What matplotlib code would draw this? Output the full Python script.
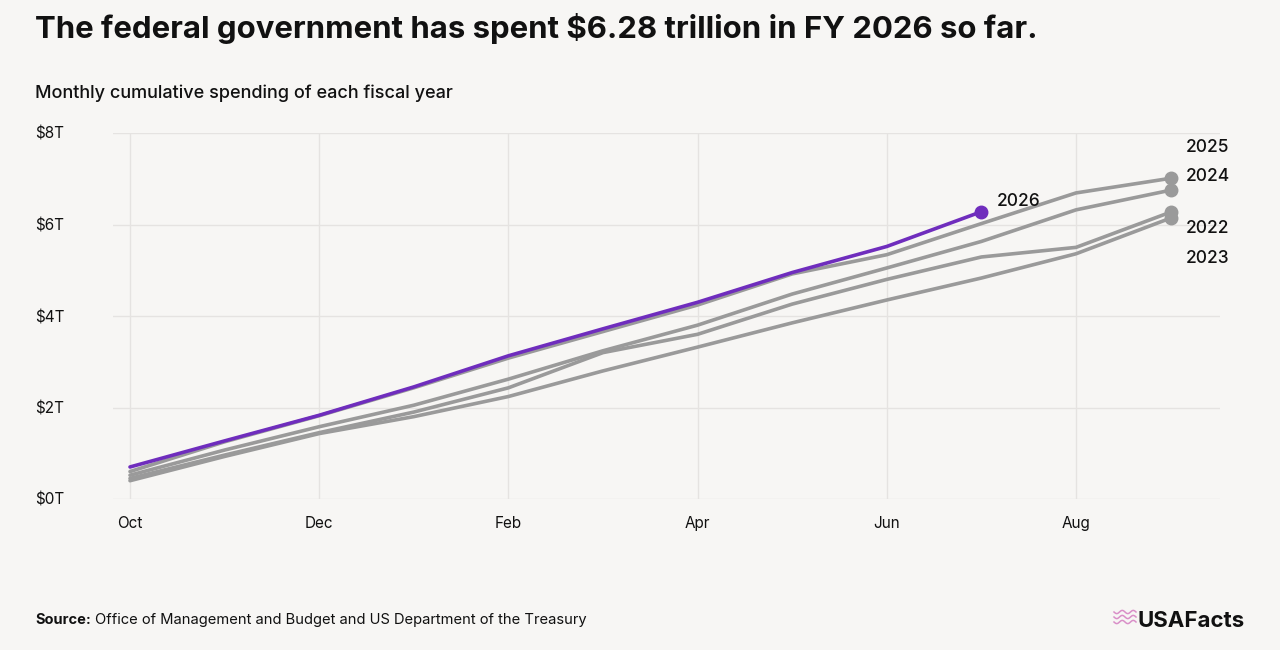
import numpy as np
import matplotlib
matplotlib.use("Agg")
import matplotlib.pyplot as plt
from matplotlib.lines import Line2D

plt.rcParams["font.family"] = ["Inter", "DejaVu Sans"]

# ---------------------------------------------------------------------------
# Data (cumulative outlays, trillions USD)
# ---------------------------------------------------------------------------
MONTHS = ["Oct", "Nov", "Dec", "Jan", "Feb", "Mar", "Apr", "May", "Jun", "Jul", "Aug", "Sep"]
TICK_MONTHS = ["Oct", "Dec", "Feb", "Apr", "Jun", "Aug"]

fy2022 = [0.45, 0.96, 1.45, 1.90, 2.43, 3.20, 3.60, 4.26, 4.80, 5.29, 5.50, 6.27]
fy2023 = [0.40, 0.93, 1.43, 1.80, 2.24, 2.80, 3.32, 3.85, 4.35, 4.83, 5.36, 6.14]
fy2024 = [0.52, 1.07, 1.58, 2.05, 2.62, 3.24, 3.80, 4.48, 5.05, 5.63, 6.32, 6.75]
fy2025 = [0.60, 1.25, 1.82, 2.43, 3.08, 3.66, 4.24, 4.92, 5.34, 6.02, 6.69, 7.01]
fy2026 = [0.70, 1.27, 1.83, 2.45, 3.13, 3.72, 4.30, 4.95, 5.52, 6.28]

Y_TICKS = [0, 2, 4, 6, 8]
Y_LABELS = ["$0T", "$2T", "$4T", "$6T", "$8T"]

BG = "#f7f6f4"
GRAY = "#9a9a9a"
PURPLE = "#6f2dbd"
GRID = "#e5e3e1"
TEXT = "#111111"

W, H = 1280, 650
fig = plt.figure(figsize=(W / 100, H / 100), dpi=100, facecolor=BG)

# axes placed in pixel terms of the reference
left, right, top, bottom = 113, 1220, 133, 499
X0, DX = 130, 94.6   # pixel of Oct and pixels per month
ax = fig.add_axes([left / W, 1 - bottom / H, (right - left) / W, (bottom - top) / H])
ax.set_facecolor(BG)

x = np.arange(len(MONTHS))
gray_series = [("2023", fy2023), ("2022", fy2022), ("2024", fy2024), ("2025", fy2025)]
for name, vals in gray_series:
    xs = x[:len(vals)]
    ax.plot(xs, vals, color=GRAY, lw=2.6, solid_capstyle="round", zorder=3)
    ax.plot(xs[-1], vals[-1], "o", color=GRAY, ms=9, zorder=3)

xs26 = x[:len(fy2026)]
ax.plot(xs26, fy2026, color=PURPLE, lw=2.6, solid_capstyle="round", zorder=4)
ax.plot(xs26[-1], fy2026[-1], "o", color=PURPLE, ms=9, zorder=4)

# end labels
lab_kw = dict(fontsize=12.5, color=TEXT, fontweight="medium", va="center", ha="left")
ax.annotate("2026", (xs26[-1], fy2026[-1]), xytext=(11, 7), textcoords="offset points", **lab_kw)
ax.annotate("2025", (x[-1], fy2025[-1]), xytext=(11, 22), textcoords="offset points", **lab_kw)
ax.annotate("2024", (x[-1], fy2024[-1]), xytext=(11, 10), textcoords="offset points", **lab_kw)
ax.annotate("2022", (x[-1], fy2022[-1]), xytext=(11, -12), textcoords="offset points", **lab_kw)
ax.annotate("2023", (x[-1], fy2023[-1]), xytext=(11, -29), textcoords="offset points", **lab_kw)

ax.set_xlim((left - X0) / DX, (right - X0) / DX)
ax.set_ylim(0, 8)

ax.set_xticks([MONTHS.index(m) for m in TICK_MONTHS])
ax.set_xticklabels(TICK_MONTHS, fontsize=11, color=TEXT)
ax.set_yticks(Y_TICKS)
ax.set_yticklabels(Y_LABELS, fontsize=11, color=TEXT)
for t in ax.get_yticklabels():
    t.set_horizontalalignment("left")
ax.tick_params(axis="y", length=0, pad=(left - 35) * 0.72)
ax.tick_params(axis="x", length=0, pad=12)

ax.grid(True, color=GRID, lw=1.0, zorder=0)
for s in ax.spines.values():
    s.set_visible(False)

# titles
fig.text(35 / W, 1 - 28 / H, "The federal government has spent $6.28 trillion in FY 2026 so far.",
         fontsize=22.4, fontweight="bold", color=TEXT, va="center", ha="left")
fig.text(35 / W, 1 - 93 / H, "Monthly cumulative spending of each fiscal year",
         fontsize=13, fontweight="medium", color=TEXT, va="center", ha="left")

# source line
src = fig.text(35 / W, 1 - 620 / H, "Source:", fontsize=10.5, fontweight="bold",
               color=TEXT, va="center", ha="left")
fig.canvas.draw()
bb = src.get_window_extent()
fig.text((bb.x1 + 4) / W, 1 - 620 / H,
         "Office of Management and Budget and US Department of the Treasury",
         fontsize=10.6, color=TEXT, va="center", ha="left")

# logo
fig.text(1245 / W, 1 - 621 / H, "USAFacts", fontsize=16, fontweight="bold",
         color=TEXT, va="center", ha="right")
t = np.linspace(0, 1, 40)
for k, dy in enumerate([0, 5, 10]):
    xx = 1114 + 22 * t
    yy = 612 + dy + 1.6 * np.sin(t * 4 * np.pi)
    fig.add_artist(Line2D(xx / W, 1 - yy / H, color="#d98fc8", lw=1.1))

fig.savefig("out.png", dpi=100, facecolor=BG)
